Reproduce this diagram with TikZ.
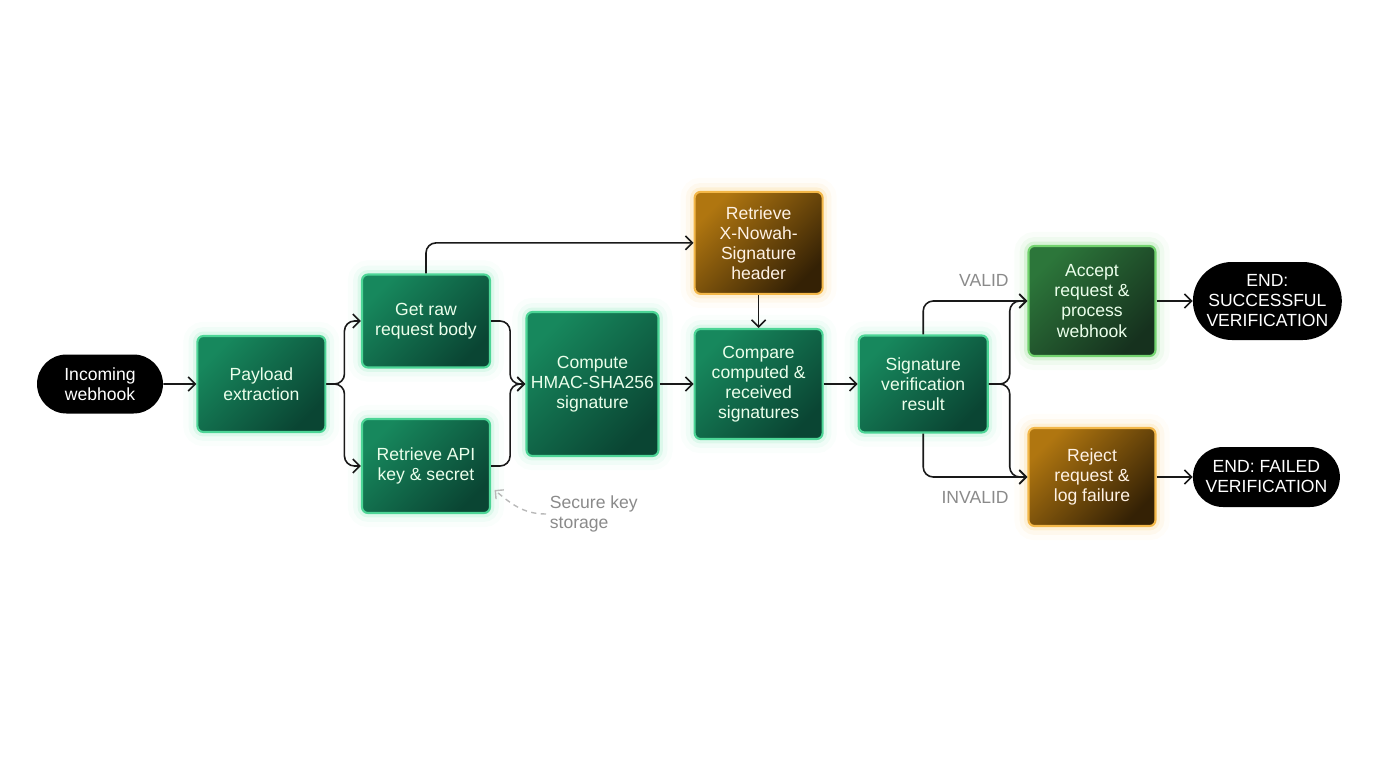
\documentclass[tikz,border=0pt]{standalone}
\usepackage{fontspec}
\setmainfont{Liberation Sans}
\usetikzlibrary{positioning,shapes.misc,arrows.meta}

\definecolor{greentop}{HTML}{17885D}
\definecolor{greenbot}{HTML}{0A4533}
\definecolor{greenedge}{HTML}{4CD596}
\definecolor{greenglow}{HTML}{7FE6B6}
\definecolor{oktop}{HTML}{2C763A}
\definecolor{okbot}{HTML}{16311E}
\definecolor{okedge}{HTML}{72D36E}
\definecolor{warntop}{HTML}{B07610}
\definecolor{warnbot}{HTML}{342105}
\definecolor{warnedge}{HTML}{F3B748}
\definecolor{warnglow}{HTML}{F9D383}
\definecolor{tagtext}{HTML}{8A8A8A}

\tikzset{
  base/.style={rectangle, rounded corners=0.12cm, align=center, inner sep=2pt,
    font=\fontsize{10}{11.4}\selectfont, line width=1.2pt},
  stepbox/.style={base, draw=greenedge, text=white!92!green,
    top color=greentop, bottom color=greenbot, shading angle=45,
    preaction={draw=greenglow, line width=5pt, opacity=0.18},
    preaction={draw=greenglow, line width=10pt, opacity=0.08},
    preaction={draw=greenglow, line width=16pt, opacity=0.04}},
  okbox/.style={base, draw=okedge, text=white!92!green,
    top color=oktop, bottom color=okbot, shading angle=45,
    preaction={draw=okedge, line width=5pt, opacity=0.18},
    preaction={draw=okedge, line width=10pt, opacity=0.08},
    preaction={draw=okedge, line width=16pt, opacity=0.04}},
  warnbox/.style={base, draw=warnedge, text=white!90!orange,
    top color=warntop, bottom color=warnbot, shading angle=45,
    preaction={draw=warnglow, line width=5pt, opacity=0.22},
    preaction={draw=warnglow, line width=10pt, opacity=0.10},
    preaction={draw=warnglow, line width=16pt, opacity=0.05}},
  endpill/.style={rounded rectangle, fill=black, text=white, align=center,
    inner sep=2pt, font=\fontsize{10}{11.4}\selectfont,
    minimum width=2.66cm, minimum height=1.18cm},
  tag/.style={text=tagtext, inner sep=2pt, font=\fontsize{10}{11.4}\selectfont},
  flow/.style={draw=black!90, line width=0.9pt, rounded corners=0.2cm,
    -{Straight Barb[length=1.4mm,width=2.8mm]}},
  keyline/.style={draw=gray!55, line width=0.8pt, dash pattern=on 3pt off 2.5pt,
    -{Straight Barb[length=1.2mm,width=2.4mm]}}
}

\begin{document}
\begin{tikzpicture}
\useasboundingbox (0,0) rectangle (27.52,-15.36);

\node[endpill] (inc) at (2.00,-7.68) {Incoming\\webhook};
\node[stepbox, minimum width=2.56cm, minimum height=1.92cm, right=0.66cm of inc] (pay) {Payload\\extraction};
\node[stepbox, minimum width=2.56cm, minimum height=1.86cm] (raw) at (8.52,-6.42) {Get raw\\request body};
\node[stepbox, minimum width=2.56cm, minimum height=1.88cm] (api) at (8.52,-9.32) {Retrieve API\\key \& secret};
\node[stepbox, minimum width=2.64cm, minimum height=2.88cm, right=3.98cm of pay] (hmac) {Compute\\HMAC-SHA256\\signature};
\node[stepbox, minimum width=2.56cm, minimum height=2.20cm, right=0.68cm of hmac] (cmp) {Compare\\computed \&\\received\\signatures};
\node[warnbox, minimum width=2.56cm, minimum height=2.04cm, above=0.66cm of cmp] (hdr) {Retrieve\\X-Nowah-\\Signature\\header};
\node[stepbox, minimum width=2.58cm, minimum height=1.94cm, right=0.68cm of cmp] (res) {Signature\\verification\\result};
\node[okbox, minimum width=2.54cm, minimum height=2.20cm] (acc) at (21.84,-6.02) {Accept\\request \&\\process\\webhook};
\node[warnbox, minimum width=2.54cm, minimum height=1.96cm] (rej) at (21.84,-9.54) {Reject\\request \&\\log failure};
\node[endpill, minimum width=2.92cm, minimum height=1.56cm, right=0.72cm of acc] (ok) {END:\\SUCCESSFUL\\VERIFICATION};
\node[endpill, minimum width=3.08cm, minimum height=1.20cm, right=0.72cm of rej] (fail) {END: FAILED\\VERIFICATION};

\node[tag, anchor=south east] (valid) at ([xshift=-0.30cm,yshift=0.22cm]acc.west) {VALID};
\node[tag, anchor=north east] (invalid) at ([xshift=-0.30cm,yshift=-0.22cm]rej.west) {INVALID};
\node[tag, anchor=west, align=left] (store) at (10.92,-10.28) {Secure key\\storage};
\coordinate (keyend) at ([xshift=0.07cm,yshift=-0.48cm]api.east);

% main flow
\draw[flow] (inc) -- (pay);
\draw[flow] (pay.east) -- ++(0.36,0) |- (raw.west);
\draw[flow] (pay.east) -- ++(0.36,0) |- (api.west);
\draw[flow] (raw.north) |- (hdr.west);
\draw[flow] (raw.east) -- ++(0.38,0) |- (hmac.west);
\draw[flow] (api.east) -- ++(0.38,0) |- (hmac.west);
\draw[flow] (hmac) -- (cmp);
\draw[flow] (hdr) -- (cmp);
\draw[flow] (cmp) -- (res);
% result branches
\draw[flow] (res.north) |- (acc.west);
\draw[flow] (res.east) -- ++(0.42,0) |- (acc.west);
\draw[flow] (res.east) -- ++(0.42,0) |- (rej.west);
\draw[flow] (res.south) |- (rej.west);
\draw[flow] (acc) -- (ok);
\draw[flow] (rej) -- (fail);
\draw[keyline] (store.west) to[out=180, in=-40] (keyend);
\end{tikzpicture}
\end{document}
